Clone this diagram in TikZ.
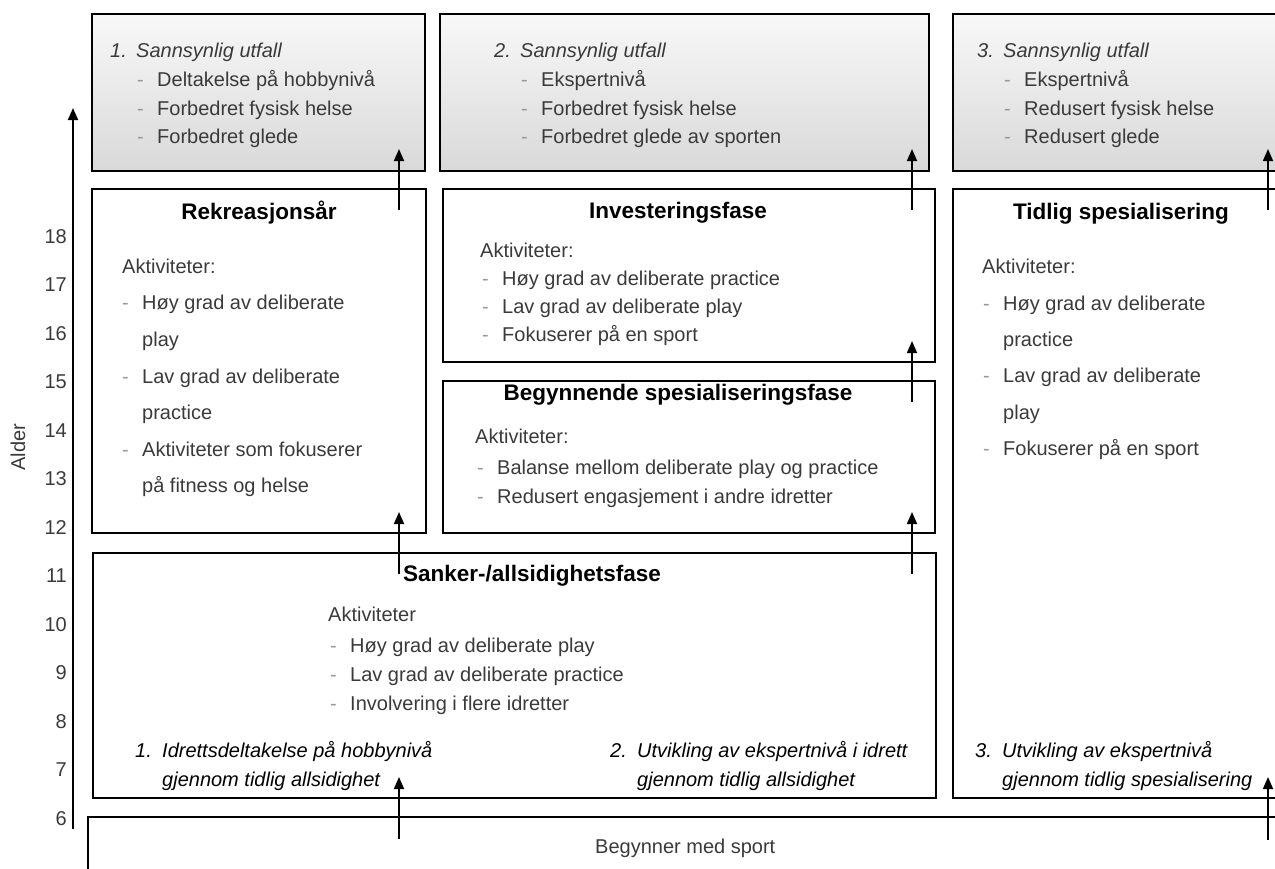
\documentclass[tikz,border=0pt]{standalone}
\usepackage{fontspec}
\setmainfont{Liberation Sans}
\usetikzlibrary{arrows.meta}
\definecolor{txt}{HTML}{3A3A3A}
\definecolor{dashc}{HTML}{999999}
\definecolor{topg}{HTML}{F8F8F8}
\definecolor{botg}{HTML}{D9D9D9}
\begin{document}
\begin{tikzpicture}[x=1pt,y=-1pt,
  box/.style={draw=black, line width=2.2pt, anchor=north west, inner sep=0pt, outer sep=0pt},
  outbox/.style={box, top color=topg, bottom color=botg},
  t/.style={anchor=base west, inner sep=0pt, font=\fontsize{20}{24}\selectfont, text=txt},
  ti/.style={t, font=\fontsize{20}{24}\selectfont\itshape},
  tb/.style={t, text=black, font=\fontsize{20}{24}\selectfont\itshape},
  dsh/.style={t, text=dashc},
  hd/.style={anchor=base, inner sep=0pt, font=\fontsize{22.5}{26}\selectfont\bfseries, text=black},
  num/.style={anchor=base east, inner sep=0pt, font=\fontsize{20}{24}\selectfont, text=txt},
  con/.style={line width=1.8pt, -{Triangle[length=12pt,width=10pt]}},
]
\useasboundingbox (0,0) rectangle (1275,868);
\begin{scope}
\clip (0,0) rectangle (1275,868);
% boxes
\node[outbox, minimum width=333pt, minimum height=157pt] (out1) at (92,14) {};
\node[outbox, minimum width=489pt, minimum height=157pt] (out2) at (440,14) {};
\node[outbox, minimum width=347pt, minimum height=157pt] (out3) at (953,14) {};
\node[box, minimum width=334pt, minimum height=344pt] (rek) at (92,189) {};
\node[box, minimum width=492pt, minimum height=173pt] (inv) at (443,189) {};
\node[box, minimum width=492pt, minimum height=152pt] (beg) at (443,381) {};
\node[box, minimum width=843pt, minimum height=245pt] (san) at (93,553) {};
\node[box, minimum width=347pt, minimum height=609pt] (tid) at (953,189) {};
\node[box, minimum width=1212pt, minimum height=83pt] (start) at (88,817) {};
\end{scope}

% axis
\coordinate (axb) at (73,829);
\coordinate (axt) at (73,108);
\draw[con] (axb) -- (axt);
\foreach \n in {6,...,18} {
  \node[num] (tick\n) at (67,{243+(18-\n)*48.5}) {\n};
}
\node[rotate=90, inner sep=0pt, font=\fontsize{20}{24}\selectfont, text=txt] (alder) at (18,447) {Alder};

% outcome 1
\node[ti] (o1n) at (110,57) {1.};
\node[ti] (o1t) at (136,57) {Sannsynlig utfall};
\node[dsh] (o1d1) at (137,86) {-};
\node[t] (o1a) at (157,86) {Deltakelse på hobbynivå};
\node[dsh] (o1d2) at (137,115) {-};
\node[t] (o1b) at (157,115) {Forbedret fysisk helse};
\node[dsh] (o1d3) at (137,143) {-};
\node[t] (o1c) at (157,143) {Forbedret glede};

% outcome 2
\node[ti] (o2n) at (494,57) {2.};
\node[ti] (o2t) at (520,57) {Sannsynlig utfall};
\node[dsh] (o2d1) at (521,86) {-};
\node[t] (o2a) at (541,86) {Ekspertnivå};
\node[dsh] (o2d2) at (521,115) {-};
\node[t] (o2b) at (541,115) {Forbedret fysisk helse};
\node[dsh] (o2d3) at (521,143) {-};
\node[t] (o2c) at (541,143) {Forbedret glede av sporten};

% outcome 3
\node[ti] (o3n) at (977,57) {3.};
\node[ti] (o3t) at (1003,57) {Sannsynlig utfall};
\node[dsh] (o3d1) at (1004,86) {-};
\node[t] (o3a) at (1024,86) {Ekspertnivå};
\node[dsh] (o3d2) at (1004,115) {-};
\node[t] (o3b) at (1024,115) {Redusert fysisk helse};
\node[dsh] (o3d3) at (1004,143) {-};
\node[t] (o3c) at (1024,143) {Redusert glede};

% Rekreasjonsaar
\node[hd] (rekh) at (259,219) {Rekreasjonsår};
\node[t] (reka) at (122,273) {Aktiviteter:};
\node[dsh] (rekd1) at (122,309) {-};
\node[t] (rek1) at (142,309) {Høy grad av deliberate};
\node[t] (rek2) at (142,346) {play};
\node[dsh] (rekd2) at (122,383) {-};
\node[t] (rek3) at (142,383) {Lav grad av deliberate};
\node[t] (rek4) at (142,419) {practice};
\node[dsh] (rekd3) at (122,456) {-};
\node[t] (rek5) at (142,456) {Aktiviteter som fokuserer};
\node[t] (rek6) at (142,492) {på fitness og helse};

% Investeringsfase
\node[hd] (invh) at (678,218) {Investeringsfase};
\node[t] (inva) at (480,257) {Aktiviteter:};
\node[dsh] (invd1) at (482,285) {-};
\node[t] (inv1) at (502,285) {Høy grad av deliberate practice};
\node[dsh] (invd2) at (482,313) {-};
\node[t] (inv2) at (502,313) {Lav grad av deliberate play};
\node[dsh] (invd3) at (482,341) {-};
\node[t] (inv3) at (502,341) {Fokuserer på en sport};

% Begynnende
\node[hd] (begh) at (678,400) {Begynnende spesialiseringsfase};
\node[t] (bega) at (475,443) {Aktiviteter:};
\node[dsh] (begd1) at (477,474) {-};
\node[t] (beg1) at (497,474) {Balanse mellom deliberate play og practice};
\node[dsh] (begd2) at (477,503) {-};
\node[t] (beg2) at (497,503) {Redusert engasjement i andre idretter};

% Tidlig spesialisering
\node[hd] (tidh) at (1121,219) {Tidlig spesialisering};
\node[t] (tida) at (982,273) {Aktiviteter:};
\node[dsh] (tidd1) at (983,310) {-};
\node[t] (tid1) at (1003,310) {Høy grad av deliberate};
\node[t] (tid2) at (1003,346) {practice};
\node[dsh] (tidd2) at (983,382) {-};
\node[t] (tid3) at (1003,382) {Lav grad av deliberate};
\node[t] (tid4) at (1003,419) {play};
\node[dsh] (tidd3) at (983,455) {-};
\node[t] (tid5) at (1003,455) {Fokuserer på en sport};

% Sanker
\node[hd, anchor=base west] (sanh) at (403,581) {Sanker-/allsidighetsfase};
\node[t] (sana) at (328,621) {Aktiviteter};
\node[dsh] (sand1) at (330,652) {-};
\node[t] (san1) at (350,652) {Høy grad av deliberate play};
\node[dsh] (sand2) at (330,681) {-};
\node[t] (san2) at (350,681) {Lav grad av deliberate practice};
\node[dsh] (sand3) at (330,710) {-};
\node[t] (san3) at (350,710) {Involvering i flere idretter};

\node[tb] (p1n) at (135,757) {1.};
\node[tb] (p1a) at (162,757) {Idrettsdeltakelse på hobbynivå};
\node[tb] (p1b) at (162,786) {gjennom tidlig allsidighet};
\node[tb] (p2n) at (610,757) {2.};
\node[tb] (p2a) at (637,757) {Utvikling av ekspertnivå i idrett};
\node[tb] (p2b) at (637,786) {gjennom tidlig allsidighet};
\node[tb] (p3n) at (975,757) {3.};
\node[tb] (p3a) at (1002,757) {Utvikling av ekspertnivå};
\node[tb] (p3b) at (1002,786) {gjennom tidlig spesialisering};

% Begynner
\node[t] (startt) at (595,853) {Begynner med sport};

% connectors
\coordinate (c1s) at (399,839); \coordinate (c1e) at (399,777);
\coordinate (c2s) at (1268,840); \coordinate (c2e) at (1268,777);
\coordinate (c3s) at (399,574); \coordinate (c3e) at (399,512);
\coordinate (c4s) at (912,574); \coordinate (c4e) at (912,512);
\coordinate (c5s) at (912,402); \coordinate (c5e) at (912,341);
\coordinate (c6s) at (399,210); \coordinate (c6e) at (399,149);
\coordinate (c7s) at (912,210); \coordinate (c7e) at (912,149);
\coordinate (c8s) at (1268,210); \coordinate (c8e) at (1268,149);
\draw[con] (c1s) -- (c1e);
\draw[con] (c2s) -- (c2e);
\draw[con] (c3s) -- (c3e);
\draw[con] (c4s) -- (c4e);
\draw[con] (c5s) -- (c5e);
\draw[con] (c6s) -- (c6e);
\draw[con] (c7s) -- (c7e);
\draw[con] (c8s) -- (c8e);
\end{tikzpicture}
\end{document}
